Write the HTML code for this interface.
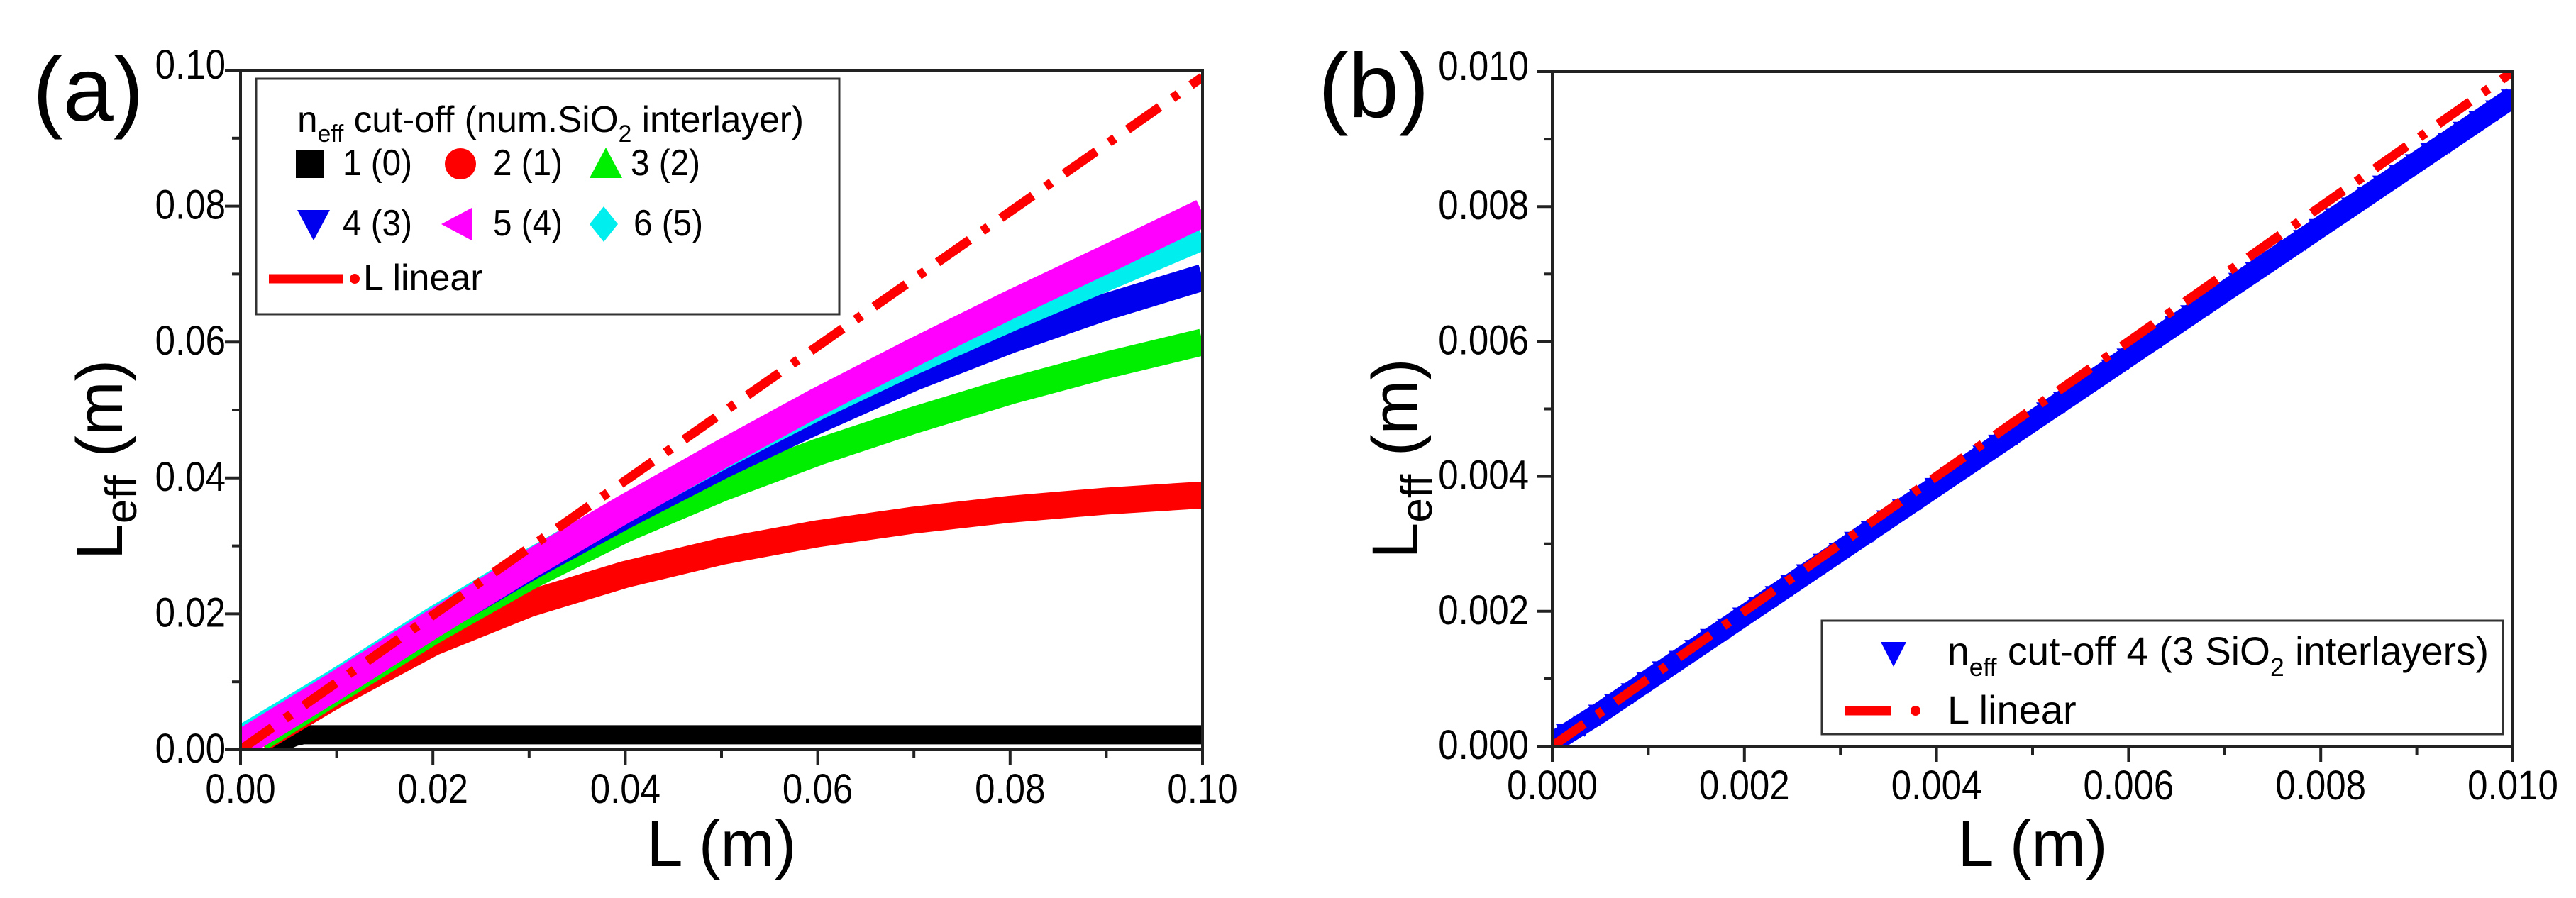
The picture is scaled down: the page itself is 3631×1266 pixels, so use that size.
<!DOCTYPE html>
<html><head><meta charset="utf-8"><style>
html,body{margin:0;padding:0;background:#fff;}
svg{display:block;}
text{font-family:"Liberation Sans",Arial,sans-serif;fill:#000;}
</style></head><body>
<svg id="fig" width="3631" height="1266" viewBox="0 0 3631 1266" xmlns="http://www.w3.org/2000/svg">
<g id="pa"></g>
<g id="pb"></g>
</svg>
<script>
// ---------- Panel (a) data ----------
const aXTicks = [0, 0.02, 0.04, 0.06, 0.08, 0.10];
const aXTickLabels = ["0.00","0.02","0.04","0.06","0.08","0.10"];
const aYTicks = [0, 0.02, 0.04, 0.06, 0.08, 0.10];
const aYTickLabels = ["0.00","0.02","0.04","0.06","0.08","0.10"];
const aSeriesNames = ["1 (0)","2 (1)","3 (2)","4 (3)","5 (4)","6 (5)"];
const s1x = [0.003, 0.0045, 0.0065, 0.02, 0.05, 0.08, 0.1];
const s1y = [0.0008, 0.0016, 0.0022, 0.0022, 0.0022, 0.0022, 0.0022];
const s2x = [0.002, 0.01, 0.02, 0.03, 0.04, 0.05, 0.06, 0.07, 0.08, 0.09, 0.1];
const s2y = [0.0015, 0.0082, 0.0158, 0.0215, 0.0258, 0.0292, 0.0318, 0.0338, 0.0354, 0.0366, 0.0375];
const s3x = [0.002, 0.01, 0.02, 0.03, 0.04, 0.05, 0.06, 0.07, 0.08, 0.09, 0.1];
const s3y = [0.0017, 0.0088, 0.0175, 0.0255, 0.0325, 0.0385, 0.0438, 0.0485, 0.0528, 0.0566, 0.0600];
const s4x = [0.0, 0.01, 0.02, 0.03, 0.04, 0.05, 0.06, 0.07, 0.08, 0.09, 0.1];
const s4y = [0.0015, 0.0098, 0.0185, 0.0268, 0.0345, 0.0418, 0.0485, 0.0548, 0.0603, 0.0652, 0.0695];
const s6x = [0.0, 0.01, 0.02, 0.03, 0.04, 0.05, 0.06, 0.07, 0.08, 0.09, 0.1];
const s6y = [0.0015, 0.0100, 0.0190, 0.0275, 0.0355, 0.0432, 0.0505, 0.0572, 0.0635, 0.0695, 0.0755];
const s5x = [0.0, 0.01, 0.02, 0.03, 0.04, 0.05, 0.06, 0.07, 0.08, 0.09, 0.1];
const s5y = [0.0008, 0.0095, 0.0185, 0.0272, 0.0355, 0.0435, 0.0512, 0.0585, 0.0655, 0.0722, 0.0790];
const aLinX = [0, 0.1];
const aLinY = [0, 0.099];
// ---------- Panel (b) data ----------
const bXTicks = [0, 0.002, 0.004, 0.006, 0.008, 0.010];
const bXTickLabels = ["0.000","0.002","0.004","0.006","0.008","0.010"];
const bYTicks = [0, 0.002, 0.004, 0.006, 0.008, 0.010];
const bYTickLabels = ["0.000","0.002","0.004","0.006","0.008","0.010"];
const bBlueX = [0.0000,0.0005,0.0010,0.0015,0.0020,0.0025,0.0030,0.0035,0.0040,0.0045,0.0050,0.0055,0.0060,0.0065,0.0070,0.0075,0.0080,0.0085,0.0090,0.0095,0.0100];
const bBlueY = [0.00005,0.00050,0.00098,0.00146,0.00194,0.00242,0.00290,0.00338,0.00386,0.00434,0.00482,0.00530,0.00578,0.00626,0.00674,0.00722,0.00770,0.00818,0.00866,0.00914,0.00962];
const bLinX = [0, 0.010];
const bLinY = [0, 0.010];

const NS = "http://www.w3.org/2000/svg";
function mk(parent, tag, attrs, txt){
  const e = document.createElementNS(NS, tag);
  for (const k in attrs) e.setAttribute(k, attrs[k]);
  if (txt !== undefined) e.textContent = txt;
  parent.appendChild(e);
  return e;
}
function scale(d0,d1,r0,r1){ return v => r0 + (v-d0)/(d1-d0)*(r1-r0); }
function pts(xs,ys,sx,sy){ return xs.map((x,i)=>sx(x).toFixed(1)+","+sy(ys[i]).toFixed(1)).join(" "); }

function axes(g, sx, sy, L, R, T, B, xt, xl, yt, yl, minorStepX, minorStepY, yLabelRight){
  let f = mk(g,"rect",{x:L,y:T,width:R-L,height:B-T,fill:"none",stroke:"#222","stroke-width":4});
  
  
  for (let i=0;i<=10;i++){
    const x = sx(i*minorStepX);
    let t = mk(g,"line",{x1:x,y1:B,x2:x,y2:B+(i%2===0?22:12),stroke:"#222","stroke-width":4});
    
    
    const y = sy(i*minorStepY);
    let t2 = mk(g,"line",{x1:L,y1:y,x2:L-(i%2===0?22:12),y2:y,stroke:"#222","stroke-width":4});
    
    
  }
  xt.forEach((v,i)=>{
    let t = mk(g,"text",{x:sx(v),y:B+75,"font-size":58,"text-anchor":"middle",transform:`translate(${sx(v)},0) scale(0.88,1) translate(${-sx(v)},0)`}, xl[i]);
    
    
  });
  yt.forEach((v,i)=>{
    let t = mk(g,"text",{x:yLabelRight,y:sy(v)+18 - (i===yt.length-1?6:0),"font-size":58,"text-anchor":"end",transform:`translate(${yLabelRight},0) scale(0.88,1) translate(${-yLabelRight},0)`}, yl[i]);
    
    
  });
}

// ================= Panel (a) =================
(function(){
  const g = document.getElementById('pa');
  const L=339, R=1695, T=99, B=1057;
  const sx = scale(0,0.1,L,R), sy = scale(0,0.1,B,T);
  const clip = mk(g,"clipPath",{id:"clipA"});
  mk(clip,"rect",{x:L,y:T,width:R-L,height:B-T});
  const plot = mk(g,"g",{"clip-path":"url(#clipA)"});
  
  

  const series = [
    {xs:s1x,ys:s1y,c:"#000000",w:27,n:"series-1-0"},
    {xs:s2x,ys:s2y,c:"#ff0000",w:38,n:"series-2-1"},
    {xs:s3x,ys:s3y,c:"#00ee00",w:38,n:"series-3-2"},
    {xs:s4x,ys:s4y,c:"#0000ee",w:38,n:"series-4-3"},
    {xs:s6x,ys:s6y,c:"#00eeee",w:38,n:"series-6-5"},
    {xs:s5x,ys:s5y,c:"#ff00ff",w:40,n:"series-5-4"}
  ];
  let ramp = mk(plot,"polyline",{points:`${sx(0.003)},${B} ${sx(0.0065)},${sy(0.0022)}`,fill:"none",stroke:"#000","stroke-width":22});
  
  
  series.forEach(s=>{
    let p = mk(plot,"polyline",{points:pts(s.xs,s.ys,sx,sy),fill:"none",stroke:s.c,"stroke-width":s.w,"stroke-linejoin":"round","stroke-linecap":"butt"});
    
    
  });
  let lin = mk(plot,"polyline",{points:pts(aLinX,aLinY,sx,sy),fill:"none",stroke:"#ff0000","stroke-width":13,"stroke-dasharray":"55 22 10 22","stroke-linecap":"butt"});
  
  

  axes(g,sx,sy,L,R,T,B,aXTicks,aXTickLabels,aYTicks,aYTickLabels,0.01,0.01,318);

  let lab = mk(g,"text",{x:46,y:170,"font-size":128,"font-family":"DejaVu Sans, sans-serif"},"(a)");
  
  
  let xt = mk(g,"text",{x:(L+R)/2,y:1221,"font-size":92,"text-anchor":"middle"},"L (m)");
  
  
  let yt = mk(g,"text",{x:0,y:0,"font-size":92,"text-anchor":"middle",transform:`translate(172,${(T+B)/2+70}) rotate(-90)`});
  
  
  yt.innerHTML = 'L<tspan font-size="62" dy="20">eff</tspan><tspan dy="-20"> (m)</tspan>';

  const lg = mk(g,"g",{});
  
  
  mk(lg,"rect",{x:361,y:111,width:822,height:332,fill:"#fff",stroke:"#333","stroke-width":3});
  let tt = mk(lg,"text",{x:419,y:186,"font-size":52,textLength:714,lengthAdjust:"spacingAndGlyphs"});
  
  
  tt.innerHTML = 'n<tspan font-size="34" dy="14">eff</tspan><tspan dy="-14"> cut-off (num.SiO</tspan><tspan font-size="34" dy="14">2</tspan><tspan dy="-14"> interlayer)</tspan>';
  const entries = [
    {mx:437,my:231,tx:483,ty:247,shape:"sq",c:"#000"},
    {mx:649,my:231,tx:695,ty:247,shape:"ci",c:"#ff0000"},
    {mx:854,my:231,tx:889,ty:247,shape:"up",c:"#00ee00"},
    {mx:442,my:316,tx:483,ty:332,shape:"dn",c:"#0000ee"},
    {mx:645,my:316,tx:695,ty:332,shape:"lt",c:"#ff00ff"},
    {mx:851,my:316,tx:893,ty:332,shape:"di",c:"#00eeee"}
  ];
  entries.forEach((e,i)=>{
    const r=20; let m;
    if(e.shape==="sq") m=mk(lg,"rect",{x:e.mx-r,y:e.my-r,width:2*r,height:2*r,fill:e.c});
    else if(e.shape==="ci") m=mk(lg,"circle",{cx:e.mx,cy:e.my,r:r+2,fill:e.c});
    else if(e.shape==="up") m=mk(lg,"polygon",{points:`${e.mx},${e.my-r-3} ${e.mx+r+3},${e.my+r} ${e.mx-r-3},${e.my+r}`,fill:e.c});
    else if(e.shape==="dn") m=mk(lg,"polygon",{points:`${e.mx-r-3},${e.my-r} ${e.mx+r+3},${e.my-r} ${e.mx},${e.my+r+3}`,fill:e.c});
    else if(e.shape==="lt") m=mk(lg,"polygon",{points:`${e.mx+r},${e.my-r-3} ${e.mx+r},${e.my+r+3} ${e.mx-r-3},${e.my}`,fill:e.c});
    else m=mk(lg,"polygon",{points:`${e.mx},${e.my-r-5} ${e.mx+r},${e.my} ${e.mx},${e.my+r+5} ${e.mx-r},${e.my}`,fill:e.c});
    
    
    let t = mk(lg,"text",{x:e.tx,y:e.ty,"font-size":52,textLength:98,lengthAdjust:"spacingAndGlyphs"},aSeriesNames[i]);
    
    
  });
  let ls = mk(lg,"line",{x1:379,y1:393,x2:483,y2:393,stroke:"#ff0000","stroke-width":13});
  
  
  let ld = mk(lg,"circle",{cx:500,cy:393,r:7,fill:"#ff0000"});
  
  
  let lt = mk(lg,"text",{x:512,y:409,"font-size":52},"L linear");
  
  
})();

// ================= Panel (b) =================
(function(){
  const g = document.getElementById('pb');
  const L=2188, R=3542, T=101, B=1052;
  const sx = scale(0,0.01,L,R), sy = scale(0,0.01,B,T);
  const clip = mk(g,"clipPath",{id:"clipB"});
  mk(clip,"rect",{x:L,y:T,width:R-L,height:B-T});
  const plot = mk(g,"g",{"clip-path":"url(#clipB)"});
  
  
  let band = mk(plot,"polyline",{points:pts(bBlueX,bBlueY,sx,sy),fill:"none",stroke:"#0000ff","stroke-width":30});
  
  
  bBlueX.forEach((x,i)=>{
    const cx=sx(x), cy=sy(bBlueY[i]);
    [-22,0,22].forEach(o=>{
      const px=cx+o, py=cy-o*0.7;
      let tri = mk(plot,"polygon",{points:`${px-17},${py-11} ${px+17},${py-11} ${px},${py+19}`,fill:"#0000ff"});
      
      
    });
  });
  let lin = mk(plot,"polyline",{points:pts(bLinX,bLinY,sx,sy),fill:"none",stroke:"#ff0000","stroke-width":13,"stroke-dasharray":"55 22 10 22"});
  
  

  axes(g,sx,sy,L,R,T,B,bXTicks,bXTickLabels,bYTicks,bYTickLabels,0.001,0.001,2155);

  let lab = mk(g,"text",{x:1858,y:165,"font-size":128,"font-family":"DejaVu Sans, sans-serif"},"(b)");
  
  
  let xt = mk(g,"text",{x:(L+R)/2,y:1221,"font-size":92,"text-anchor":"middle"},"L (m)");
  
  
  let yt = mk(g,"text",{x:0,y:0,"font-size":92,"text-anchor":"middle",transform:`translate(1998,${(T+B)/2+70}) rotate(-90)`});
  
  
  yt.innerHTML = 'L<tspan font-size="62" dy="20">eff</tspan><tspan dy="-20"> (m)</tspan>';

  const lg = mk(g,"g",{});
  
  
  mk(lg,"rect",{x:2568,y:875,width:960,height:160,fill:"#fff",stroke:"#333","stroke-width":3});
  let m = mk(lg,"polygon",{points:"2651,905 2687,905 2669,940",fill:"#0000ff"});
  
  
  let t = mk(lg,"text",{x:2745,y:937,"font-size":56,textLength:763,lengthAdjust:"spacingAndGlyphs"});
  
  
  t.innerHTML = 'n<tspan font-size="36" dy="16">eff</tspan><tspan dy="-16"> cut-off 4 (3 SiO</tspan><tspan font-size="36" dy="16">2</tspan><tspan dy="-16"> interlayers)</tspan>';
  let ls = mk(lg,"line",{x1:2601,y1:1002,x2:2666,y2:1002,stroke:"#ff0000","stroke-width":13});
  
  
  let ld = mk(lg,"circle",{cx:2700,cy:1002,r:7,fill:"#ff0000"});
  
  
  let lt = mk(lg,"text",{x:2745,y:1020,"font-size":56},"L linear");
  
  
})();
</script>
</body></html>
